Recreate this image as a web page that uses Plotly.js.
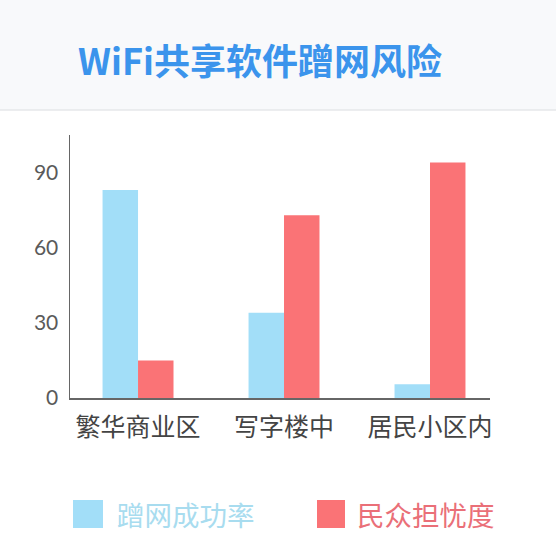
<!DOCTYPE html>
<html>
<head>
<meta charset="utf-8">
<script src="https://cdn.plot.ly/plotly-3.0.1.min.js"></script>
<style>html,body{margin:0;padding:0;background:#fff;}#chart{width:556px;height:554px;}</style>
</head>
<body>
<div id="chart"></div>
<script>
var chartTitle = 'WiFi共享软件蹭网风险';
var categories = ['繁华商业区', '写字楼中', '居民小区内'];
var seriesNames = ['蹭网成功率', '民众担忧度'];
var successRate = [83, 34, 5.5];
var worryLevel = [15, 73, 94];
var yTicks = [0, 30, 60, 90];

var blue = '#a2def8';
var red = '#fa7376';

var traces = [
  {type: 'bar', name: seriesNames[0], x: categories, y: successRate,
   marker: {color: blue}, hoverinfo: 'x+y'},
  {type: 'bar', name: seriesNames[1], x: categories, y: worryLevel,
   marker: {color: red}, hoverinfo: 'x+y'}
];

// paper coordinate helpers (plot area: x 70..490, y 135..398 px)
function px(v){ return (v - 70) / 420; }
function py(v){ return (398 - v) / 263; }

var layout = {
  width: 556, height: 554,
  margin: {l: 70, r: 66, t: 135, b: 156},
  paper_bgcolor: '#ffffff',
  plot_bgcolor: 'rgba(0,0,0,0)',
  showlegend: false,
  barmode: 'group',
  bargap: 0.514,
  bargroupgap: 0,
  title: {
    text: '<b>' + chartTitle + '</b>',
    font: {family: 'Noto Sans CJK SC, sans-serif', size: 36, color: '#3b94ec', weight: 900},
    x: 260/556, xanchor: 'center', xref: 'container',
    y: 1 - 62/554, yanchor: 'middle', yref: 'container'
  },
  xaxis: {
    type: 'category',
    range: [-0.466, 2.411],
    showline: true, linecolor: '#666666', linewidth: 1.5,
    showgrid: false, zeroline: false, ticks: '',
    ticklabelstandoff: 6,
    tickfont: {family: 'Noto Sans CJK SC, sans-serif', size: 25, color: '#444444'},
    fixedrange: true
  },
  yaxis: {
    range: [0, 105],
    tickvals: yTicks,
    ticktext: yTicks.map(String),
    showline: true, linecolor: '#666666', linewidth: 1.5,
    showgrid: false, zeroline: false, ticks: '',
    ticklabelstandoff: 6,
    tickfont: {family: 'Lato, Noto Sans, sans-serif', size: 21, color: '#5a5a5a'},
    fixedrange: true
  },
  shapes: [
    {type: 'rect', xref: 'paper', yref: 'paper', layer: 'below',
     x0: px(0), x1: px(556), y0: py(110), y1: py(0),
     fillcolor: '#f8f9fb', line: {width: 0}},
    {type: 'line', xref: 'paper', yref: 'paper', layer: 'below',
     x0: px(0), x1: px(556), y0: py(110), y1: py(110),
     line: {color: '#e6e7ea', width: 1.5}},
    {type: 'rect', xref: 'paper', yref: 'paper',
     x0: px(73), x1: px(103), y0: py(528), y1: py(500),
     fillcolor: blue, line: {width: 0}},
    {type: 'rect', xref: 'paper', yref: 'paper',
     x0: px(317), x1: px(345), y0: py(528), y1: py(500),
     fillcolor: red, line: {width: 0}}
  ],
  annotations: [
    {xref: 'paper', yref: 'paper', x: px(115), y: py(514), xanchor: 'left', yanchor: 'middle',
     text: seriesNames[0], showarrow: false,
     font: {family: 'Noto Sans CJK SC, sans-serif', size: 27.5, color: '#a8dcef'}},
    {xref: 'paper', yref: 'paper', x: px(355), y: py(514), xanchor: 'left', yanchor: 'middle',
     text: seriesNames[1], showarrow: false,
     font: {family: 'Noto Sans CJK SC, sans-serif', size: 27.5, color: '#ea6f78'}}
  ]
};

Plotly.newPlot('chart', traces, layout, {displayModeBar: false, staticPlot: true});
</script>
</body>
</html>
